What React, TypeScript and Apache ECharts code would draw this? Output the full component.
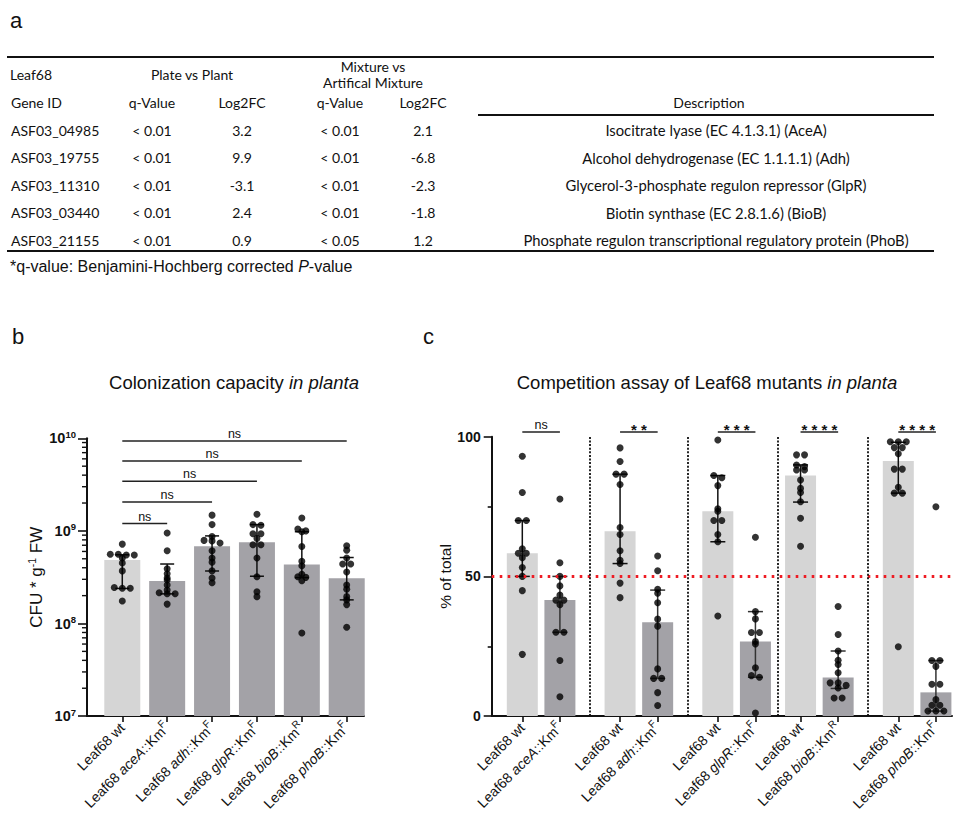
import React, { useEffect, useRef } from "react";
import * as echarts from "echarts";

// ---------- Panel a: differential expression table ----------
const geneIds = ["ASF03_04985", "ASF03_19755", "ASF03_11310", "ASF03_03440", "ASF03_21155"];
const plateQ = ["< 0.01", "< 0.01", "< 0.01", "< 0.01", "< 0.01"];
const plateLog2FC = ["3.2", "9.9", "-3.1", "2.4", "0.9"];
const mixtureQ = ["< 0.01", "< 0.01", "< 0.01", "< 0.01", "< 0.05"];
const mixtureLog2FC = ["2.1", "-6.8", "-2.3", "-1.8", "1.2"];
const descriptions = [
  "Isocitrate lyase (EC 4.1.3.1) (AceA)",
  "Alcohol dehydrogenase (EC 1.1.1.1) (Adh)",
  "Glycerol-3-phosphate regulon repressor (GlpR)",
  "Biotin synthase (EC 2.8.1.6) (BioB)",
  "Phosphate regulon transcriptional regulatory protein (PhoB)",
];

// ---------- Strains ----------
const mutantGenes = ["aceA", "adh", "glpR", "bioB", "phoB"];
const markerTags = ["F", "F", "F", "R", "F"];

// ---------- Panel b: colonization (CFU per g fresh weight) ----------
const colonizationWt = [7.2e8, 5.6e8, 5.6e8, 5.5e8, 5.5e8, 5.1e8, 4.5e8, 3.7e8, 2.45e8, 2.4e8, 2.4e8, 1.75e8];
const colonizationAceA = [9.5e8, 6.1e8, 3.9e8, 3.45e8, 3.1e8, 2.95e8, 2.6e8, 2.3e8, 2.15e8, 2.1e8, 2.1e8, 1.62e8];
const colonizationAdh = [1.48e9, 1.17e9, 8.7e8, 7.9e8, 7.8e8, 7.4e8, 6.1e8, 5.1e8, 4.6e8, 3.7e8, 3.1e8, 2.75e8];
const colonizationGlpR = [1.51e9, 1.17e9, 1.15e9, 9.3e8, 9.3e8, 8.3e8, 7.1e8, 7.1e8, 5.1e8, 3.2e8, 2.2e8, 1.95e8];
const colonizationBioB = [1.38e9, 1.05e9, 1.0e9, 9.8e8, 6.8e8, 4.7e8, 4.2e8, 3.4e8, 3.2e8, 3.15e8, 2.9e8, 7.9e7];
const colonizationPhoB = [6.9e8, 6.2e8, 5.1e8, 4.4e8, 4.4e8, 3.6e8, 2.6e8, 2.35e8, 1.95e8, 1.8e8, 1.6e8, 9.1e7];
const colonizationMedian = [4.84e8, 2.88e8, 6.84e8, 7.55e8, 4.35e8, 3.08e8];
const colonizationQ1 = [2.39e8, 2.09e8, 3.69e8, 3.24e8, 3.13e8, 1.8e8];
const colonizationQ3 = [5.52e8, 4.39e8, 8.83e8, 1.17e9, 9.8e8, 5.16e8];
const colonizationTargets = [1, 2, 3, 4, 5];
const colonizationBracketLevels = [1.2e9, 2.05e9, 3.44e9, 5.68e9, 9.35e9];
const colonizationSignif = ["ns", "ns", "ns", "ns", "ns"];

// ---------- Panel c: competition (% of total) ----------
const competitionWt = [
  [93.0, 80.0, 70.0, 70.0, 59.9, 58.3, 58.3, 56.7, 53.2, 50.0, 44.9, 22.1],
  [96.0, 91.1, 86.6, 86.6, 82.9, 67.5, 65.0, 59.2, 55.8, 54.6, 47.6, 42.4],
  [98.8, 86.1, 85.3, 82.5, 74.2, 73.3, 70.0, 70.0, 65.0, 62.4, 35.8],
  [93.5, 93.5, 89.9, 89.3, 88.1, 88.1, 84.5, 81.5, 80.0, 76.7, 70.8, 60.8],
  [98.2, 98.2, 98.2, 96.1, 96.1, 93.9, 88.4, 88.4, 81.9, 79.8, 79.8, 24.8],
];
const competitionMutant = [
  [77.7, 54.9, 50.0, 46.6, 43.3, 41.5, 41.5, 39.9, 30.0, 30.0, 19.9, 6.9],
  [57.3, 52.0, 45.4, 44.0, 40.6, 34.7, 32.2, 16.9, 13.5, 13.5, 8.4, 3.8],
  [64.0, 37.4, 34.8, 29.9, 29.9, 26.7, 25.8, 17.3, 14.5, 13.9, 1.1],
  [39.2, 29.2, 23.3, 20.0, 18.5, 15.5, 11.9, 11.9, 11.0, 10.1, 6.5, 6.5],
  [74.9, 19.9, 19.9, 17.8, 11.4, 11.4, 5.9, 3.9, 3.9, 1.8, 1.8, 1.8],
];
const competitionWtMedian = [58.3, 66.2, 73.3, 86.1, 91.3];
const competitionMutantMedian = [41.6, 33.6, 26.7, 13.8, 8.5];
const competitionWtRange = [[50.0, 70.0], [54.6, 86.6], [62.4, 86.1], [76.6, 89.9], [79.8, 98.0]];
const competitionMutantRange = [[30.0, 50.0], [13.5, 45.1], [13.9, 37.4], [9.9, 23.3], [1.8, 19.9]];
const competitionSignif = ["ns", "**", "***", "****", "****"];
const equalShare = 50;

// ---------- Layout ----------
const FONT = "'Liberation Sans', Arial, sans-serif";
const TABLE_FONT = "Lato, 'Liberation Sans', sans-serif";
const WT_COLOR = "#d5d5d5";
const MUT_COLOR = "#a3a2a7";
const B_GRID = { left: 87, top: 438.3, width: 277, height: 280 };
const B_X = { min: -0.786, max: 5.385 };
const C_GRID = { left: 491.7, top: 436.7, width: 460.3, height: 281 };
const C_X = { min: -0.814, max: 11.428 };
const C_SLOTS = [0, 2.6, 5.2, 7.4, 10];
const C_BRACKET_Y = 101.7;

// Spread points sharing a y-bin symmetrically (GraphPad-style scatter)
function swarmOffsets(values: number[], toPx: (v: number) => number, bin = 4, step = 8): number[] {
  const groups = new Map<number, number[]>();
  values.forEach((v, i) => {
    const k = Math.round(toPx(v) / bin);
    if (!groups.has(k)) groups.set(k, []);
    groups.get(k)!.push(i);
  });
  const off = new Array(values.length).fill(0);
  groups.forEach((idx) => {
    const n = idx.length;
    idx.forEach((id, j) => {
      off[id] = (j - (n - 1) / 2) * step;
    });
  });
  return off;
}

const strainLabel = (k: number) => `Leaf68 {i|${mutantGenes[k]}}::Km{sup|${markerTags[k]}}`;

function buildOption(): any {
  const bLabels = ["Leaf68 wt", ...mutantGenes.map((_, k) => strainLabel(k))];
  const bPositions = bLabels.map((_, i) => i);
  const bPoints = [colonizationWt, colonizationAceA, colonizationAdh, colonizationGlpR, colonizationBioB, colonizationPhoB];

  const cLabels: string[] = [];
  const cPositions: number[] = [];
  mutantGenes.forEach((_, k) => {
    cLabels.push("Leaf68 wt", strainLabel(k));
    cPositions.push(C_SLOTS[k], C_SLOTS[k] + 1);
  });
  const cSeparators = C_SLOTS.slice(1).map((s, k) => (C_SLOTS[k] + 1 + s) / 2);

  const bPx = (v: number) => ((Math.log10(v) - 7) / 3) * B_GRID.height;
  const cPx = (v: number) => (v / 100) * C_GRID.height;

  const bScatter: any[] = [];
  bPoints.forEach((vals, i) => {
    const off = swarmOffsets(vals, bPx);
    vals.forEach((v, j) => bScatter.push({ value: [i, v], symbolOffset: [off[j], 0] }));
  });
  const cScatter: any[] = [];
  mutantGenes.forEach((_, k) => {
    [competitionWt[k], competitionMutant[k]].forEach((vals, m) => {
      const off = swarmOffsets(vals, cPx);
      vals.forEach((v, j) => cScatter.push({ value: [C_SLOTS[k] + m, v], symbolOffset: [off[j], 0] }));
    });
  });

  const labelFormatter = (labels: string[], positions: number[]) => (v: number) => {
    const i = positions.findIndex((p) => Math.abs(p - v) < 1e-6);
    return i >= 0 ? labels[i] : "";
  };
  const labelRich = {
    i: { fontStyle: "italic", fontSize: 14, fontFamily: FONT, color: "#111" },
    sup: { fontSize: 10, fontFamily: FONT, color: "#111", padding: [0, 0, 10, 0] },
  };
  const xAxisCommon = {
    type: "value",
    axisLine: { show: true, onZero: false, lineStyle: { color: "#111", width: 2 } },
    axisTick: { show: true, length: 6, lineStyle: { color: "#111", width: 1.6 } },
    axisLabel: { rotate: 45, fontSize: 14, fontFamily: FONT, color: "#111", margin: 9, rich: labelRich },
    splitLine: { show: false },
  };

  const errorBar = (cap: number, colors: string[]) => (params: any, api: any) => {
    const x = api.value(0);
    const lo = api.coord([x, api.value(1)]);
    const hi = api.coord([x, api.value(2)]);
    const style = { stroke: colors[params.dataIndex], lineWidth: 1.5 };
    return {
      type: "group",
      children: [
        { type: "line", shape: { x1: lo[0], y1: lo[1], x2: hi[0], y2: hi[1] }, style },
        { type: "line", shape: { x1: lo[0] - cap, y1: lo[1], x2: lo[0] + cap, y2: lo[1] }, style },
        { type: "line", shape: { x1: hi[0] - cap, y1: hi[1], x2: hi[0] + cap, y2: hi[1] }, style },
      ],
    };
  };

  const bracket = (labels: string[]) => (params: any, api: any) => {
    const a = api.coord([api.value(0), api.value(2)]);
    const b = api.coord([api.value(1), api.value(2)]);
    const label = labels[params.dataIndex];
    const stars = label.includes("*");
    return {
      type: "group",
      children: [
        { type: "line", shape: { x1: a[0], y1: a[1], x2: b[0], y2: b[1] }, style: { stroke: "#222", lineWidth: 1.5 } },
        {
          type: "text",
          x: (a[0] + b[0]) / 2,
          y: stars ? a[1] - 2.5 : a[1] - 7,
          style: {
            text: stars ? label.split("").join(" ") : label,
            font: stars ? `bold 15px ${FONT}` : `12.5px ${FONT}`,
            fill: "#111",
            align: "center",
            verticalAlign: "middle",
          },
        },
      ],
    };
  };

  const minorLogTicks: number[][] = [];
  for (let d = 7; d < 10; d++) for (let m = 2; m <= 9; m++) minorLogTicks.push([B_X.min, m * Math.pow(10, d)]);

  // ---- table graphics ----
  const tableText = (text: string, x: number, y: number, align = "center", size = 14) => ({
    type: "text",
    x,
    y,
    style: { text, font: `${size}px ${TABLE_FONT}`, fill: "#111", align, verticalAlign: "middle" },
  });
  const rule = (x1: number, x2: number, y: number) => ({
    type: "line",
    shape: { x1, y1: y, x2, y2: y },
    style: { stroke: "#111", lineWidth: 2 },
  });
  const table: any[] = [
    rule(7, 934, 57),
    rule(478, 934, 115),
    rule(7, 934, 251),
    tableText("Leaf68", 10, 74, "left"),
    tableText("Plate vs Plant", 192, 74),
    tableText("Mixture vs", 373, 66),
    tableText("Artifical Mixture", 373, 82),
    tableText("Gene ID", 11, 102, "left"),
    tableText("q-Value", 152, 102),
    tableText("Log2FC", 242, 102),
    tableText("q-Value", 340, 102),
    tableText("Log2FC", 423, 102),
    tableText("Description", 709, 102),
  ];
  geneIds.forEach((g, r) => {
    const y = 130 + r * 27.5;
    table.push(
      tableText(g, 11, y, "left"),
      tableText(plateQ[r], 152, y),
      tableText(plateLog2FC[r], 242, y),
      tableText(mixtureQ[r], 340, y),
      tableText(mixtureLog2FC[r], 423, y),
      tableText(descriptions[r], 716, y, "center", 14.8)
    );
  });
  table.push({
    type: "text",
    x: 10,
    y: 266,
    style: {
      text: "*q-value: Benjamini-Hochberg corrected {i|P}-value",
      font: `16px ${FONT}`,
      fill: "#111",
      verticalAlign: "middle",
      rich: { i: { fontStyle: "italic", fontSize: 16, fontFamily: FONT, color: "#111" } },
    },
  });
  const panelLetter = (t: string, x: number, y: number) => ({
    type: "text",
    x,
    y,
    style: { text: t, font: `22px ${FONT}`, fill: "#111", verticalAlign: "middle" },
  });
  const title = (t: string, x: number) => ({
    type: "text",
    x,
    y: 382,
    style: {
      text: `${t} {i|in planta}`,
      font: `18.5px ${FONT}`,
      fill: "#111",
      align: "center",
      verticalAlign: "middle",
      rich: { i: { fontStyle: "italic", fontSize: 18.5, fontFamily: FONT, color: "#111" } },
    },
  });

  return {
    animation: false,
    backgroundColor: "#fff",
    textStyle: { fontFamily: FONT },
    graphic: [
      ...table,
      panelLetter("a", 10, 20),
      panelLetter("b", 12, 336),
      panelLetter("c", 423, 336),
      title("Colonization capacity", 234),
      title("Competition assay of Leaf68 mutants", 707),
    ],
    grid: [
      { ...B_GRID, containLabel: false },
      { ...C_GRID, containLabel: false },
    ],
    xAxis: [
      {
        ...xAxisCommon,
        gridIndex: 0,
        min: B_X.min,
        max: B_X.max,
        axisTick: { ...xAxisCommon.axisTick, customValues: bPositions },
        axisLabel: { ...xAxisCommon.axisLabel, customValues: bPositions, formatter: labelFormatter(bLabels, bPositions) },
      },
      {
        ...xAxisCommon,
        gridIndex: 1,
        min: C_X.min,
        max: C_X.max,
        axisTick: { ...xAxisCommon.axisTick, customValues: cPositions },
        axisLabel: { ...xAxisCommon.axisLabel, customValues: cPositions, formatter: labelFormatter(cLabels, cPositions) },
      },
    ],
    yAxis: [
      {
        type: "log",
        logBase: 10,
        gridIndex: 0,
        min: 1e7,
        max: 1e10,
        axisLine: { show: true, onZero: false, lineStyle: { color: "#111", width: 2 } },
        axisTick: { show: true, length: 9, lineStyle: { color: "#111", width: 1.6 } },
        splitLine: { show: false },
        axisLabel: {
          margin: 11,
          color: "#111",
          formatter: (v: number) => `{b|10}{e|${Math.round(Math.log10(v))}}`,
          rich: {
            b: { fontSize: 14.5, fontWeight: "bold", fontFamily: FONT, color: "#111" },
            e: { fontSize: 9.5, fontWeight: "bold", fontFamily: FONT, color: "#111", padding: [0, 0, 8, 0] },
          },
        },
        name: "CFU * g{sup|-1} FW",
        nameLocation: "middle",
        nameRotate: 90,
        nameGap: 38,
        nameTextStyle: {
          fontSize: 17,
          fontFamily: FONT,
          color: "#111",
          rich: { sup: { fontSize: 10.5, fontFamily: FONT, color: "#111", padding: [0, 0, 9, 0] } },
        },
      },
      {
        type: "value",
        gridIndex: 1,
        min: 0,
        max: 100,
        interval: 50,
        axisLine: { show: true, onZero: false, lineStyle: { color: "#111", width: 2 } },
        axisTick: { show: true, length: 8, lineStyle: { color: "#111", width: 1.6 } },
        minorTick: { show: true, splitNumber: 2, length: 4, lineStyle: { color: "#111", width: 1.6 } },
        splitLine: { show: false },
        minorSplitLine: { show: false },
        axisLabel: { margin: 11, fontSize: 14, fontWeight: "bold", fontFamily: FONT, color: "#111" },
        name: "% of total",
        nameLocation: "middle",
        nameRotate: 90,
        nameGap: 33,
        nameTextStyle: { fontSize: 15.5, fontFamily: FONT, color: "#111" },
      },
    ],
    series: [
      // panel b
      {
        type: "bar",
        xAxisIndex: 0,
        yAxisIndex: 0,
        barWidth: 36,
        z: 2,
        data: colonizationMedian.map((v, i) => ({ value: [i, v], itemStyle: { color: i === 0 ? WT_COLOR : MUT_COLOR } })),
      },
      {
        type: "custom",
        xAxisIndex: 0,
        yAxisIndex: 0,
        z: 3,
        encode: { x: 0, y: [1, 2] },
        renderItem: errorBar(7, colonizationMedian.map(() => "#111")),
        data: colonizationQ1.map((q, i) => [i, q, colonizationQ3[i]]),
      },
      {
        type: "scatter",
        xAxisIndex: 0,
        yAxisIndex: 0,
        z: 4,
        symbol: "circle",
        symbolSize: 7,
        itemStyle: { color: "#000" },
        data: bScatter,
      },
      {
        type: "custom",
        xAxisIndex: 0,
        yAxisIndex: 0,
        z: 4,
        encode: { x: [0, 1], y: 2 },
        renderItem: bracket(colonizationSignif),
        data: colonizationTargets.map((t, k) => [0, t, colonizationBracketLevels[k]]),
      },
      {
        type: "custom",
        xAxisIndex: 0,
        yAxisIndex: 0,
        z: 4,
        encode: { x: 0, y: 1 },
        renderItem: (_p: any, api: any) => {
          const p = api.coord([api.value(0), api.value(1)]);
          return {
            type: "line",
            shape: { x1: p[0] - 5, y1: p[1], x2: p[0], y2: p[1] },
            style: { stroke: "#111", lineWidth: 1.4 },
          };
        },
        data: minorLogTicks,
      },
      // panel c
      {
        type: "line",
        xAxisIndex: 1,
        yAxisIndex: 1,
        z: 1,
        data: [],
        markLine: {
          silent: true,
          symbol: ["none", "none"],
          label: { show: false },
          data: [
            { yAxis: equalShare, lineStyle: { color: "#ee1c24", type: [2.6, 5.4], width: 3 } },
            ...cSeparators.map((x) => ({ xAxis: x, lineStyle: { color: "#111", type: [2, 1.6], width: 1.8 } })),
          ],
        },
      },
      {
        type: "bar",
        xAxisIndex: 1,
        yAxisIndex: 1,
        barWidth: 31,
        z: 2,
        data: competitionWtMedian.flatMap((v, k) => [
          { value: [C_SLOTS[k], v], itemStyle: { color: WT_COLOR } },
          { value: [C_SLOTS[k] + 1, competitionMutantMedian[k]], itemStyle: { color: MUT_COLOR } },
        ]),
      },
      {
        type: "custom",
        xAxisIndex: 1,
        yAxisIndex: 1,
        z: 3,
        encode: { x: 0, y: [1, 2] },
        renderItem: errorBar(7.5, competitionWtRange.flatMap(() => ["#111", "#333"])),
        data: competitionWtRange.flatMap((r, k) => [
          [C_SLOTS[k], r[0], r[1]],
          [C_SLOTS[k] + 1, competitionMutantRange[k][0], competitionMutantRange[k][1]],
        ]),
      },
      {
        type: "scatter",
        xAxisIndex: 1,
        yAxisIndex: 1,
        z: 4,
        symbol: "circle",
        symbolSize: 7,
        itemStyle: { color: "#000" },
        data: cScatter,
      },
      {
        type: "custom",
        xAxisIndex: 1,
        yAxisIndex: 1,
        z: 4,
        encode: { x: [0, 1], y: 2 },
        renderItem: bracket(competitionSignif),
        data: C_SLOTS.map((s) => [s, s + 1, C_BRACKET_Y]),
      },
    ],
  };
}

export default function App() {
  const ref = useRef<HTMLDivElement>(null);
  useEffect(() => {
    const chart = echarts.init(ref.current!, undefined, { renderer: "svg" });
    chart.setOption(buildOption());
    return () => chart.dispose();
  }, []);
  return (
    <div
      ref={ref}
      style={{ position: "fixed", left: 0, top: 0, width: 958, height: 813, background: "#fff" }}
    />
  );
}
